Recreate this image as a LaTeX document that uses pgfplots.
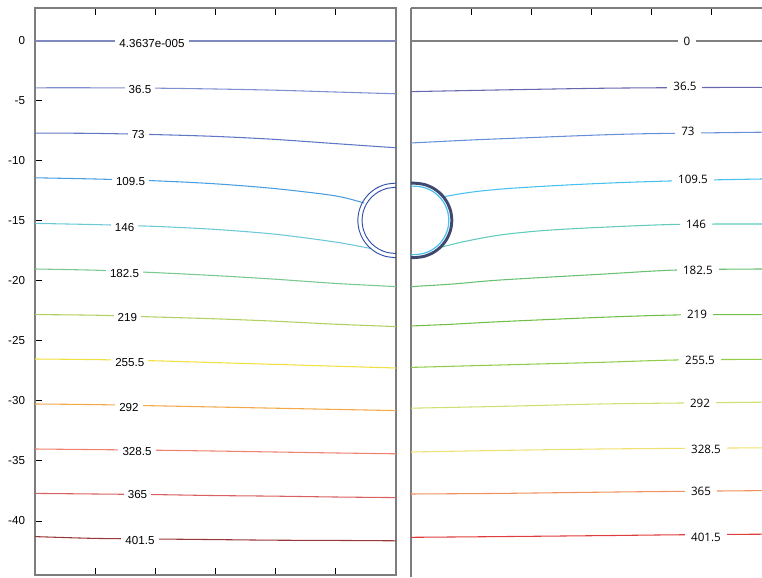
\documentclass[border=0pt]{standalone}
\usepackage{pgfplots}
\pgfplotsset{compat=1.18}
\usepackage{fontspec}
\setmainfont{Liberation Sans}
\newfontfamily\rfont{Open Sans}
\definecolor{framegray}{RGB}{125,125,125}
\definecolor{L0}{HTML}{8088C0}
\definecolor{L36}{HTML}{7F8FD0}
\definecolor{L73}{HTML}{5F78C6}
\definecolor{L109}{HTML}{4A9EE0}
\definecolor{L146}{HTML}{6CC8D8}
\definecolor{L182}{HTML}{78C890}
\definecolor{L219}{HTML}{B0D060}
\definecolor{L255}{HTML}{F0E040}
\definecolor{L292}{HTML}{F5A848}
\definecolor{L328}{HTML}{F08070}
\definecolor{L365}{HTML}{D86060}
\definecolor{L401}{HTML}{983838}
\definecolor{R0}{HTML}{808080}
\definecolor{R36}{HTML}{6868B0}
\definecolor{R73}{HTML}{6890D8}
\definecolor{R109}{HTML}{48C0F0}
\definecolor{R146}{HTML}{60CBBB}
\definecolor{R182}{HTML}{68C070}
\definecolor{R219}{HTML}{70C048}
\definecolor{R255}{HTML}{90CC48}
\definecolor{R292}{HTML}{D0E070}
\definecolor{R328}{HTML}{F0E070}
\definecolor{R365}{HTML}{F29060}
\definecolor{R401}{HTML}{E03C3C}
\definecolor{circblue}{HTML}{3050A8}
\definecolor{circdark}{HTML}{404870}
\begin{document}
\begin{tikzpicture}
\path[use as bounding box] (0pt,0pt) rectangle (571.5pt,432.75pt);
\tikzset{lab/.style={fill=white, inner xsep=3pt, inner ysep=1pt, font=\fontsize{8.7}{10}\selectfont}}
\tikzset{rlab/.style={fill=white, inner xsep=4.5pt, inner ysep=1pt, font=\rfont\fontsize{8.7}{10}\selectfont}}
% ---------------- left panel
\begin{axis}[
  scale only axis, width=270.75pt, height=425.25pt,
  at={(26.25pt,1.5pt)}, anchor=south west,
  xmin=0, xmax=30.08, ymin=-44.5, ymax=2.75,
  xtick={0,5,...,30}, xticklabels={},
  ytick={-40,-35,-30,-25,-20,-15,-10,-5,0},
  yticklabels={-40,-35,-30,-25,-20,-15,-10,-5,0},
  ytick pos=left,
  tick align=inside, major tick length=5.25pt,
  tick style={black, line width=0.75pt},
  axis line style={framegray, line width=1.3pt},
  tick label style={font=\fontsize{8.7}{10}\selectfont},
  yticklabel style={xshift=-4pt},
  every axis plot/.append style={line width=0.8pt},
]
\addplot[L0] coordinates {(0,0) (30.1,0)};
\addplot[L36, smooth] coordinates {(0,-3.9) (5,-3.9) (10,-3.93) (15,-4.0) (20,-4.1) (25,-4.25) (30.1,-4.4)};
\addplot[L73, smooth] coordinates {(0,-7.67) (5,-7.7) (10,-7.8) (15,-7.95) (20,-8.2) (25,-8.55) (30.1,-8.9)};
\addplot[L109, smooth] coordinates {(0,-11.4) (5,-11.5) (10,-11.65) (15,-11.9) (20,-12.3) (25,-12.9) (27.4,-13.5)};
\addplot[L146, smooth] coordinates {(0,-15.2) (5,-15.3) (10,-15.45) (15,-15.7) (20,-16.1) (25,-16.75) (28.0,-17.3)};
\addplot[L182, smooth] coordinates {(0,-19.0) (5,-19.1) (10,-19.3) (15,-19.55) (20,-19.85) (25,-20.2) (30.1,-20.47)};
\addplot[L219, smooth] coordinates {(0,-22.8) (5,-22.85) (10,-23.0) (15,-23.15) (20,-23.35) (25,-23.6) (30.1,-23.8)};
\addplot[L255, smooth] coordinates {(0,-26.5) (5,-26.55) (10,-26.65) (15,-26.8) (20,-26.95) (25,-27.1) (30.1,-27.25)};
\addplot[L292, smooth] coordinates {(0,-30.25) (5,-30.3) (10,-30.4) (15,-30.5) (20,-30.6) (25,-30.7) (30.1,-30.8)};
\addplot[L328, smooth] coordinates {(0,-34.0) (5,-34.05) (10,-34.1) (15,-34.17) (20,-34.25) (25,-34.33) (30.1,-34.4)};
\addplot[L365, smooth] coordinates {(0,-37.7) (5,-37.75) (10,-37.8) (15,-37.88) (20,-37.93) (25,-38.0) (30.1,-38.05)};
\addplot[L401, smooth] coordinates {(0,-41.3) (5,-41.45) (10,-41.5) (15,-41.55) (20,-41.6) (25,-41.62) (30.1,-41.65)};
% circle (two rings)
\addplot[circblue, line width=0.7pt, smooth] coordinates {(30.5,-11.85) (30,-11.85) (29.198,-11.956) (28.45,-12.265) (27.808,-12.758) (27.315,-13.4) (27.006,-14.148) (26.9,-14.95) (27.006,-15.752) (27.315,-16.5) (27.808,-17.142) (28.45,-17.635) (29.198,-17.944) (30,-18.05) (30.5,-18.05)};
\addplot[circblue, line width=0.7pt, smooth] coordinates {(30.5,-12.2) (30,-12.2) (29.288,-12.294) (28.625,-12.568) (28.055,-13.005) (27.618,-13.575) (27.344,-14.238) (27.25,-14.95) (27.344,-15.662) (27.618,-16.325) (28.055,-16.895) (28.625,-17.332) (29.288,-17.606) (30,-17.7) (30.5,-17.7)};
% labels
\node[lab] at (axis cs:9.75,-0.17) {4.3637e-005};
\node[lab] at (axis cs:8.75,-4.03) {36.5};
\node[lab] at (axis cs:8.6,-7.83) {73};
\node[lab] at (axis cs:7.96,-11.72) {109.5};
\node[lab] at (axis cs:7.46,-15.56) {146};
\node[lab] at (axis cs:7.46,-19.36) {182.5};
\node[lab] at (axis cs:7.7,-23.06) {219};
\node[lab] at (axis cs:7.9,-26.8) {255.5};
\node[lab] at (axis cs:7.83,-30.53) {292};
\node[lab] at (axis cs:8.5,-34.2) {328.5};
\node[lab] at (axis cs:8.54,-37.83) {365};
\node[lab] at (axis cs:8.75,-41.64) {401.5};
\end{axis}
% ---------------- right panel
\begin{axis}[
  scale only axis, width=263.25pt, height=426.75pt,
  at={(308.25pt,0pt)}, anchor=south west,
  xmin=0, xmax=29.25, ymin=-44.667, ymax=2.75,
  axis x line*=top, axis y line*=left,
  xtick={5,10,...,25}, xticklabels={}, ytick=\empty,
  tick align=inside, major tick length=5.25pt,
  tick style={black, line width=0.75pt},
  axis line style={framegray, line width=1.3pt, -},
  every axis plot/.append style={line width=0.8pt},
]
\addplot[R0] coordinates {(0,0) (29.3,0)};
\addplot[R36, smooth] coordinates {(0,-4.22) (7.4,-4.08) (15.75,-3.94) (22,-3.89) (29.3,-3.86)};
\addplot[R73, smooth] coordinates {(0,-8.5) (5,-8.25) (10,-8.05) (15.75,-7.83) (20,-7.72) (29.3,-7.6)};
\addplot[R109, smooth] coordinates {(2.7,-12.98) (5,-12.6) (8,-12.3) (13,-12.0) (18,-11.78) (24,-11.6) (29.3,-11.5)};
\addplot[R146, smooth] coordinates {(2.45,-17.2) (4.5,-16.7) (7.4,-16.17) (11,-15.8) (15.75,-15.53) (22.2,-15.28) (29.3,-15.25)};
\addplot[R182, smooth] coordinates {(0,-20.47) (3.5,-20.25) (7.4,-19.92) (15.75,-19.44) (22.2,-19.08) (29.3,-19.0)};
\addplot[R219, smooth] coordinates {(0,-23.75) (3.5,-23.6) (7.4,-23.39) (15.75,-23.03) (22.2,-22.83) (29.3,-22.8)};
\addplot[R255, smooth] coordinates {(0,-27.2) (7.4,-27.0) (15.75,-26.78) (22.2,-26.58) (29.3,-26.53)};
\addplot[R292, smooth] coordinates {(0,-30.6) (7.4,-30.45) (15.75,-30.25) (22.2,-30.17) (29.3,-30.1)};
\addplot[R328, smooth] coordinates {(0,-34.25) (7.4,-34.12) (15.75,-34.0) (22.2,-33.95) (29.3,-33.9)};
\addplot[R365, smooth] coordinates {(0,-37.75) (7.4,-37.7) (15.75,-37.6) (22.2,-37.53) (29.3,-37.47)};
\addplot[R401, smooth] coordinates {(0,-41.36) (7.4,-41.3) (15.75,-41.22) (22.2,-41.15) (29.3,-41.1)};
% circle
\addplot[circdark, line width=2.2pt, smooth] coordinates {(-0.3,-11.85) (0.3,-11.85) (1.102,-11.956) (1.85,-12.265) (2.492,-12.758) (2.985,-13.4) (3.294,-14.148) (3.4,-14.95) (3.294,-15.752) (2.985,-16.5) (2.492,-17.142) (1.85,-17.635) (1.102,-17.944) (0.3,-18.05) (-0.3,-18.05)};
\addplot[R109, line width=0.9pt, smooth] coordinates {(-0.3,-12.1) (0.3,-12.1) (1.038,-12.197) (1.725,-12.482) (2.315,-12.935) (2.768,-13.525) (3.053,-14.212) (3.15,-14.95) (3.053,-15.688) (2.768,-16.375) (2.315,-16.965) (1.725,-17.418) (1.038,-17.703) (0.3,-17.8) (-0.3,-17.8)};
% labels
\node[rlab] at (axis cs:23.0,0) {0};
\node[rlab] at (axis cs:22.83,-3.75) {36.5};
\node[rlab] at (axis cs:23.08,-7.56) {73};
\node[rlab] at (axis cs:23.5,-11.5) {109.5};
\node[rlab] at (axis cs:23.75,-15.25) {146};
\node[rlab] at (axis cs:23.9,-19.08) {182.5};
\node[rlab] at (axis cs:23.83,-22.8) {219};
\node[rlab] at (axis cs:24.08,-26.58) {255.5};
\node[rlab] at (axis cs:24.08,-30.17) {292};
\node[rlab] at (axis cs:24.58,-34.0) {328.5};
\node[rlab] at (axis cs:24.17,-37.5) {365};
\node[rlab] at (axis cs:24.58,-41.39) {401.5};
\end{axis}
\end{tikzpicture}
\end{document}
